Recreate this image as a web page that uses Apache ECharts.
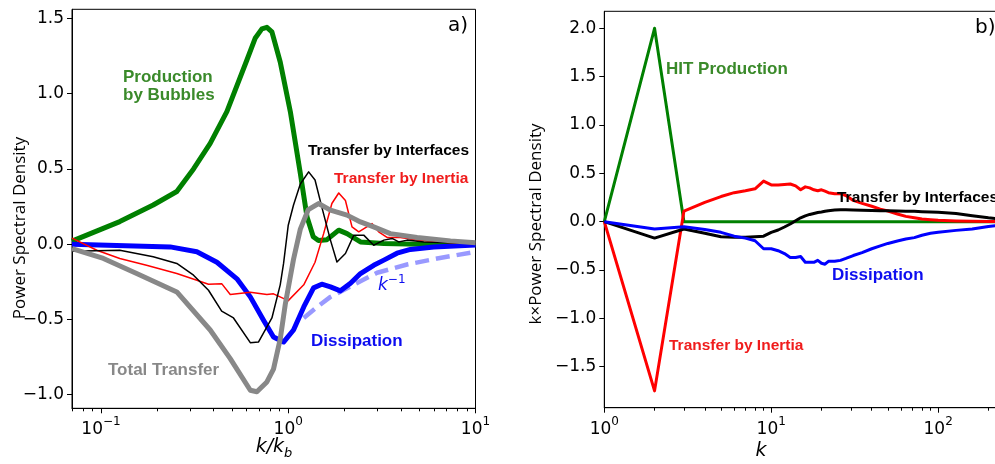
<!DOCTYPE html>
<html><head><meta charset="utf-8">
<script src="https://cdn.jsdelivr.net/npm/echarts@6/dist/echarts.min.js"></script>
<style>html,body{margin:0;padding:0;background:#fff}#c{width:995px;height:464px}</style>
</head><body><div id="c"></div>
<script>
// ---------- Panel a) : spectra vs k/k_b ----------
const kGreenA = [0.07,0.126,0.19,0.254,0.312,0.383,0.47,0.60,0.667,0.723,0.769,0.818,0.906,1.026,1.16,1.26,1.36,1.45,1.61,1.86,2.06,2.43,3.24,5,10];
const vGreenA = [0.02,0.15,0.26,0.35,0.50,0.67,0.88,1.22,1.37,1.43,1.44,1.41,1.21,0.88,0.47,0.18,0.05,0.025,0.03,0.093,0.07,0.015,0.005,0,0];

const kGrayA = [0.07,0.103,0.155,0.254,0.383,0.49,0.627,0.68,0.769,0.834,0.906,0.964,1.067,1.16,1.28,1.45,1.68,2.06,2.43,2.86,3.51,4.88,7.35,10];
const vGrayA = [-0.03,-0.095,-0.195,-0.317,-0.57,-0.76,-0.97,-0.98,-0.915,-0.83,-0.63,-0.40,-0.10,0.10,0.23,0.27,0.226,0.193,0.148,0.115,0.07,0.045,0.022,0.01];

const kBlueA = [0.07,0.234,0.325,0.416,0.532,0.627,0.738,0.834,0.944,1.067,1.21,1.365,1.51,1.68,1.90,2.15,2.43,2.86,3.24,3.81,4.49,5.98,10];
const vBlueA = [0.0,-0.018,-0.05,-0.12,-0.23,-0.35,-0.505,-0.616,-0.65,-0.57,-0.417,-0.29,-0.266,-0.284,-0.31,-0.26,-0.195,-0.14,-0.106,-0.06,-0.035,-0.018,-0.005];

const kDashA = [1.21,1.45,1.68,2.15,2.98,4.31,6.24,10];
const vDashA = [-0.49,-0.41,-0.35,-0.28,-0.19,-0.135,-0.095,-0.051];

const kRedA = [0.07,0.095,0.126,0.175,0.254,0.325,0.375,0.441,0.49,0.627,0.769,0.834,1.0,1.21,1.39,1.545,1.71,1.86,2.02,2.19,2.38,2.80,3.04,3.37,3.97,4.88,7.35,10];
const vRedA = [0.04,-0.04,-0.095,-0.14,-0.195,-0.24,-0.266,-0.262,-0.334,-0.32,-0.334,-0.33,-0.375,-0.27,-0.12,0.07,0.27,0.34,0.29,0.115,0.082,0.137,0.082,0.045,0.045,0.027,0.009,0.005];

const kBlackA = [0.07,0.126,0.19,0.254,0.312,0.375,0.441,0.51,0.627,0.693,0.818,0.906,0.944,1.0,1.067,1.16,1.285,1.39,1.51,1.68,1.82,2.02,2.24,2.53,2.86,3.24,3.59,3.89,4.31,5.30,10];
const vBlackA = [-0.047,-0.04,-0.084,-0.128,-0.206,-0.306,-0.445,-0.49,-0.654,-0.65,-0.49,-0.27,-0.128,0.126,0.26,0.40,0.48,0.426,0.248,0.027,-0.118,-0.062,0.06,0.06,-0.007,0.027,0.038,0.015,0.027,0.015,0.005];

// ---------- Panel b) : k x spectra vs k ----------
const kB = [1,2,3,4,5,6,7,8,9,10,11,12,13,14,15,16,17,18,19,20,21,22,24,26,28,31,35,40,45,50,57,64,72,80,90,100,128,160,200,256];
const vGreenB = [0,2.0,0,0,0,0,0,0,0,0,0,0,0,0,0,0,0,0,0,0,0,0,0,0,0,0,0,0,0,0,0,0,0,0,0,0,0,0,0,0];
const vRedB = [0,-1.75,0.11,0.20,0.26,0.30,0.32,0.34,0.42,0.38,0.38,0.385,0.39,0.37,0.33,0.36,0.35,0.33,0.32,0.33,0.315,0.30,0.29,0.29,0.27,0.22,0.19,0.16,0.13,0.11,0.08,0.055,0.04,0.028,0.02,0.014,0.008,0.005,0.003,0.002];
const vBlackB = [0,-0.17,-0.076,-0.12,-0.155,-0.16,-0.16,-0.155,-0.15,-0.11,-0.086,-0.055,-0.024,0.01,0.04,0.06,0.075,0.085,0.095,0.10,0.107,0.114,0.12,0.124,0.124,0.12,0.117,0.115,0.114,0.112,0.11,0.108,0.107,0.104,0.10,0.097,0.085,0.062,0.04,0.02];
const vBlueB = [0,-0.076,-0.052,-0.08,-0.11,-0.15,-0.17,-0.197,-0.28,-0.28,-0.30,-0.33,-0.37,-0.37,-0.36,-0.42,-0.42,-0.42,-0.40,-0.43,-0.44,-0.41,-0.41,-0.40,-0.38,-0.35,-0.32,-0.28,-0.25,-0.225,-0.20,-0.18,-0.165,-0.14,-0.12,-0.11,-0.09,-0.075,-0.05,-0.03];

// ---------- ticks ----------
const xMajorA = [0.1, 1, 10];
const xMinorA = [0.07,0.08,0.09,0.2,0.3,0.4,0.5,0.6,0.7,0.8,0.9,2,3,4,5,6,7,8,9];
const yTicksA = [-1.0,-0.5,0.0,0.5,1.0,1.5];
const xMajorB = [1, 10, 100];
const xMinorB = [2,3,4,5,6,7,8,9,20,30,40,50,60,70,80,90,200];
const yTicksB = [-1.5,-1.0,-0.5,0.0,0.5,1.0,1.5,2.0];

const L = Math.log10;
const pairs = (ks, vs) => ks.map((k, i) => [L(k), vs[i]]);
const TICKFONT = '"DejaVu Sans", sans-serif';
const ANN = '"Liberation Sans", Arial, sans-serif';
const minus = s => s.replace('-', '\u2212');

function powLabel(v) {
  const e = Math.round(v);
  return '{b|10}{s|' + minus(String(e)) + '}';
}
const powRich = {
  b: {fontSize: 17, fontFamily: TICKFONT, color: '#000', lineHeight: 22, verticalAlign: 'bottom'},
  s: {fontSize: 12, fontFamily: TICKFONT, color: '#000', lineHeight: 12, verticalAlign: 'top'}
};

function xMajor(grid, min, max, ticks) {
  const cv = ticks.map(L);
  return {
    gridIndex: grid, type: 'value', min: min, max: max, position: 'bottom',
    axisLine: {show: true, onZero: false, lineStyle: {color: '#000', width: 1}},
    axisTick: {show: true, length: 5, customValues: cv, lineStyle: {color: '#000', width: 1}},
    axisLabel: {show: true, customValues: cv, formatter: powLabel, rich: powRich, margin: 8},
    splitLine: {show: false}
  };
}
function xMinor(grid, min, max, ticks) {
  const cv = ticks.map(L);
  return {
    gridIndex: grid, type: 'value', min: min, max: max, position: 'bottom',
    axisLine: {show: false, onZero: false},
    axisTick: {show: true, length: 3, customValues: cv, lineStyle: {color: '#000', width: 1}},
    axisLabel: {show: false},
    splitLine: {show: false}
  };
}
function yAxis(grid, min, max, ticks) {
  return {
    gridIndex: grid, type: 'value', min: min, max: max,
    axisLine: {show: true, onZero: false, lineStyle: {color: '#000', width: 1}},
    axisTick: {show: true, length: 5, customValues: ticks, lineStyle: {color: '#000', width: 1}},
    axisLabel: {show: true, customValues: ticks, margin: 8, fontSize: 17, fontFamily: TICKFONT, color: '#000',
      formatter: v => minus(v.toFixed(1))},
    splitLine: {show: false}
  };
}
function line(xi, ks, vs, color, width, extra) {
  return Object.assign({
    type: 'line', xAxisIndex: xi, yAxisIndex: xi === 0 ? 0 : 1,
    data: pairs(ks, vs), showSymbol: false, symbol: 'none', smooth: false, silent: true,
    lineStyle: {color: color, width: width, join: 'round', cap: 'butt'}, animation: false
  }, extra || {});
}

function txt(text, x, y, color, size, opts) {
  opts = opts || {};
  return {
    type: 'text', x: x, y: y, z: 100, rotation: opts.rot || 0, silent: true,
    style: Object.assign({
      text: text, fill: color,
      font: (opts.font || ('bold ' + size + 'px ' + ANN)),
      align: opts.align || 'left', verticalAlign: 'middle'
    }, opts.style || {})
  };
}

const greenLine = '#008000', greenText = '#3a8a2a';
const chart = echarts.init(document.getElementById('c'), null, {renderer: 'canvas'});
chart.setOption({
  animation: false,
  backgroundColor: '#fff',
  grid: [
    {left: 72, top: 9.3, width: 403.5, height: 399, show: true, borderColor: '#000', borderWidth: 1, containLabel: false, outerBoundsMode: 'none'},
    {left: 604.3, top: 11.3, width: 402, height: 396.4, show: true, borderColor: '#000', borderWidth: 1, containLabel: false, outerBoundsMode: 'none'}
  ],
  xAxis: [
    xMajor(0, L(0.07), L(10), xMajorA),
    xMajor(1, 0, L(256), xMajorB),
    xMinor(0, L(0.07), L(10), xMinorA),
    xMinor(1, 0, L(256), xMinorB)
  ],
  yAxis: [
    yAxis(0, -1.09, 1.56, yTicksA),
    yAxis(1, -1.924, 2.176, yTicksB)
  ],
  series: [
    line(0, kGreenA, vGreenA, greenLine, 5),
    line(0, kBlueA, vBlueA, '#0000ff', 5),
    line(0, kDashA, vDashA, 'rgba(0,0,255,0.4)', 4.5, {lineStyle: {color: 'rgba(0,0,255,0.4)', width: 4.5, type: [14, 7]}}),
    line(0, kRedA, vRedA, '#ff0000', 1.5),
    line(0, kBlackA, vBlackA, '#000000', 1.5),
    line(0, kGrayA, vGrayA, '#888888', 5),
    line(1, kB, vGreenB, greenLine, 3),
    line(1, kB, vRedB, '#ff0000', 3),
    line(1, kB, vBlackB, '#000000', 3),
    line(1, kB, vBlueB, '#0000ff', 3)
  ],
  graphic: [
    txt('Production', 123, 77, greenText, 17),
    txt('by Bubbles', 123, 95, greenText, 17),
    txt('Transfer by Interfaces', 308, 151, '#000', 15.5),
    txt('Transfer by Inertia', 334, 179, '#f01c1c', 15.5),
    txt('Dissipation', 311, 341, '#0d0df0', 17),
    txt('Total Transfer', 108, 370, '#888888', 17),
    txt('', 378, 284, '#0d0df0', 16, {style: {text: '{i|k}{s|\u22121}', rich: {
      i: {fontSize: 17, fontFamily: TICKFONT, fontStyle: 'italic', fill: '#0d0df0', lineHeight: 20, verticalAlign: 'bottom'},
      s: {fontSize: 12, fontFamily: TICKFONT, fill: '#0d0df0', lineHeight: 12, verticalAlign: 'top'}}}}),
    txt('a)', 468, 26, '#000', 20, {font: '20px ' + TICKFONT, align: 'right'}),
    txt('HIT Production', 666, 69, greenText, 17),
    txt('Transfer by Interfaces', 837, 198, '#000', 15.5),
    txt('Dissipation', 832, 275, '#0d0df0', 17),
    txt('Transfer by Inertia', 669, 346, '#f01c1c', 15.5),
    txt('b)', 975, 28, '#000', 20, {font: '20px ' + TICKFONT}),
    txt('Power Spectral Density', 20, 228, '#000', 17, {font: '17px "Open Sans", sans-serif', align: 'center', rot: Math.PI / 2}),
    txt('k\u00d7Power Spectral Density', 536, 224, '#000', 17, {font: '17px "Open Sans", sans-serif', align: 'center', rot: Math.PI / 2}),
    txt('', 274, 449, '#000', 19, {align: 'center', style: {text: '{i|k/k}{s|b}', rich: {
      i: {fontSize: 19, fontFamily: TICKFONT, fontStyle: 'italic', fill: '#000', lineHeight: 22, verticalAlign: 'top'},
      s: {fontSize: 13, fontFamily: TICKFONT, fontStyle: 'italic', fill: '#000', lineHeight: 13, verticalAlign: 'bottom'}}}}),
    txt('k', 761, 451, '#000', 19, {font: 'italic 19px ' + TICKFONT, align: 'center'})
  ]
});
</script></body></html>
